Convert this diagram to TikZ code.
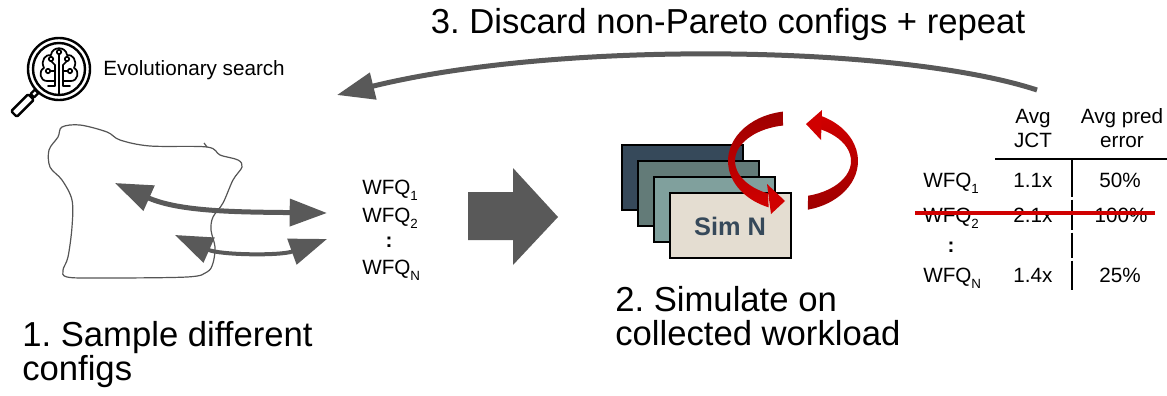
\documentclass[tikz,border=0pt]{standalone}
\usepackage{fontspec}
\setmainfont{Liberation Sans}
\usetikzlibrary{arrows.meta}
\frenchspacing

\definecolor{arrowgray}{HTML}{595959}
\definecolor{blobgray}{HTML}{555555}
\definecolor{simA}{HTML}{36495A}
\definecolor{simB}{HTML}{637B78}
\definecolor{simC}{HTML}{80A09D}
\definecolor{simD}{HTML}{E4DDD1}
\definecolor{loopred}{HTML}{D00000}
\definecolor{loopdark}{HTML}{9E0000}

% WFQ with a low subscript
\newcommand{\wfq}[1]{WFQ\raisebox{-0.55ex}{\fontsize{10}{10}\selectfont #1}}

\begin{document}
\begin{tikzpicture}[x=0.75pt,y=0.75pt,
		every node/.style={inner sep=0pt},
		bigtxt/.style={font=\fontsize{26}{25.5}\selectfont, align=left},
		smalltxt/.style={font=\fontsize{15.5}{18}\selectfont},
		fatline/.style={draw=arrowgray, line width=3.75pt,
			arrows={Triangle[length=28pt,width=20pt]-Triangle[length=28pt,width=20pt]}},
		simbox/.style={draw=black, line width=1.2pt},
		tabline/.style={draw=black, line width=1.1pt}]
	\useasboundingbox (0,0) rectangle (1167,-396);

	% search space
	\draw[blobgray, line width=0.9pt] plot[smooth cycle, tension=0.55] coordinates {(62,-127) (80,-125) (107,-132) (120,-140) (150,-146) (207,-147) (220,-155) (238,-160) (242,-167) (233,-180) (223,-203) (213,-217) (211,-230) (215,-247) (213,-263) (207,-272) (187,-277) (100,-278) (67,-277) (63,-270) (68,-257) (72,-227) (72,-200) (62,-180) (50,-167) (49,-150) (58,-137)};
	\draw[blobgray, line width=0.9pt] (207,-147) -- (204,-143);

	% sampled configs
	\coordinate (inA) at (115,-183);
	\coordinate (outA) at (327,-213);
	\coordinate (inB) at (175,-235);
	\coordinate (outB) at (327,-239);
	\draw[fatline] (inA) .. controls (180,-212) and (240,-212) .. (outA);
	\draw[fatline, line width=3pt] (inB) .. controls (220,-255) and (280,-256) .. (outB);

	\node[smalltxt, anchor=base west] (w1) at (362,-194) {\wfq{1}};
	\node[smalltxt, anchor=base west] (w2) at (362,-222) {\wfq{2}};
	\node[smalltxt, anchor=base] (wdots) at (389,-247) {\textbf{:}};
	\node[smalltxt, anchor=base west] (wN) at (362,-274) {\wfq{N}};

	% block arrow
	\fill[arrowgray] (468,-192) -- (513,-192) -- (513,-168) -- (558,-217) -- (513,-265) -- (513,-240) -- (468,-240) -- cycle;

	% simulators
	\foreach \i/\c in {0/simA,1/simB,2/simC,3/simD}
		\draw[simbox, fill=\c] (622+16*\i,-145-16*\i) rectangle ++(121,-65);
	\node[font=\fontsize{19}{19}\selectfont\bfseries, text=simA, anchor=base] (simN) at (730,-235) {Sim N};

	% loop
	\shade[top color=loopdark, bottom color=loopred]
		([shift={(793,-161)}]99:65 and 50) arc[start angle=99, end angle=248, x radius=65, y radius=50]
		-- ([shift={(793,-161)}]244.5:58 and 36) arc[start angle=244.5, end angle=99.9, x radius=58, y radius=36] -- cycle;
	\fill[loopred] (767,-184) -- (785,-201) -- (771,-214) -- cycle;
	\shade[top color=loopred, bottom color=loopdark]
		([shift={(793,-161)}]283.3:65 and 50) arc[start angle=283.3, end angle=424.5, x radius=65, y radius=50]
		-- ([shift={(793,-161)}]421.1:58 and 36) arc[start angle=421.1, end angle=285, x radius=58, y radius=36] -- cycle;
	\fill[loopred] (822,-110) -- (806,-124) -- (821,-140) -- cycle;

	% results table
	\node[smalltxt, anchor=base, align=center] (hjct) at (1033,-147) {Avg\\JCT};
	\node[smalltxt, anchor=base, align=center] (herr) at (1122,-147) {Avg pred\\error};
	\draw[tabline] (995,-159) -- (1167,-159);
	\draw[tabline] (1072,-159) -- (1072,-197);
	\draw[tabline] (1072,-199.5) -- (1072,-230);
	\draw[tabline] (1072,-232.5) -- (1072,-258);
	\draw[tabline] (1072,-260.5) -- (1072,-290);

	\node[smalltxt, anchor=base west] (t1) at (923,-187) {\wfq{1}};
	\node[smalltxt, anchor=base] (j1) at (1033,-187) {1.1x};
	\node[smalltxt, anchor=base] (e1) at (1120,-187) {50\%};
	\node[smalltxt, anchor=base west] (t2) at (923,-222) {\wfq{2}};
	\node[smalltxt, anchor=base] (j2) at (1033,-222) {2.1x};
	\node[smalltxt, anchor=base] (e2) at (1121,-222) {100\%};
	\node[smalltxt, anchor=base] (tdots) at (951,-252) {\textbf{:}};
	\node[smalltxt, anchor=base west] (tN) at (923,-282) {\wfq{N}};
	\node[smalltxt, anchor=base] (jN) at (1033,-282) {1.4x};
	\node[smalltxt, anchor=base] (eN) at (1120,-282) {25\%};
	\draw[loopred, line width=3pt] (915,-213) -- (1155,-213);

	% back to the search
	\coordinate (loopstart) at (1037,-90);
	\coordinate (loopend) at (337,-95);
	\draw[draw=arrowgray, line width=3.75pt, -{Triangle[length=28pt,width=20pt]}] (loopstart) .. controls (900,-45) and (560,-40) .. (loopend);

	% step labels
	\node[bigtxt, anchor=base] (discard) at (728,-33) {3. Discard non-Pareto configs + repeat};
	\node[bigtxt, anchor=base west] (sample) at (22,-380) {1. Sample different\\configs};
	\node[bigtxt, anchor=base west] (simulate) at (615,-345) {2. Simulate on\\collected workload};
	\node[smalltxt, anchor=base west] (evo) at (103,-75) {Evolutionary search};

	% magnifier icon
	\begin{scope}[line width=1.8pt, line join=round]
		\draw (59,-69) circle (31);
		\draw (59,-69) circle (26);
		\draw[rotate around={45:(34.5,-93.5)}] (31.5,-96) rectangle (37.5,-91);
		\draw[rotate around={45:(22.5,-105.5)}, rounded corners=1pt] (10.5,-109.5) rectangle (34.5,-101.5);
	\end{scope}
	\begin{scope}[line width=1.3pt, line join=round, line cap=round]
		\draw (55,-81) -- (47,-81) .. controls (40,-81) and (38,-71) .. (44,-68) .. controls (40,-60) and (46,-54) .. (51,-55) .. controls (52,-46) and (66,-46) .. (67,-55) .. controls (72,-54) and (78,-60) .. (74,-68) .. controls (80,-71) and (78,-81) .. (71,-81) -- (63,-81);
		\draw (59,-54) -- (59,-94);
		\draw (51,-61) -- (55,-65) -- (55,-86) -- (48,-86);
		\draw (67,-61) -- (63,-65) -- (63,-86) -- (70,-86);
		\draw (50.5,-71) -- (55,-71);
		\draw (67.5,-71) -- (63,-71);
		\foreach \p in {(51,-59),(67,-59),(48,-71),(70,-71),(59,-52)}
			\draw \p circle (2.2);
	\end{scope}
\end{tikzpicture}
\end{document}
